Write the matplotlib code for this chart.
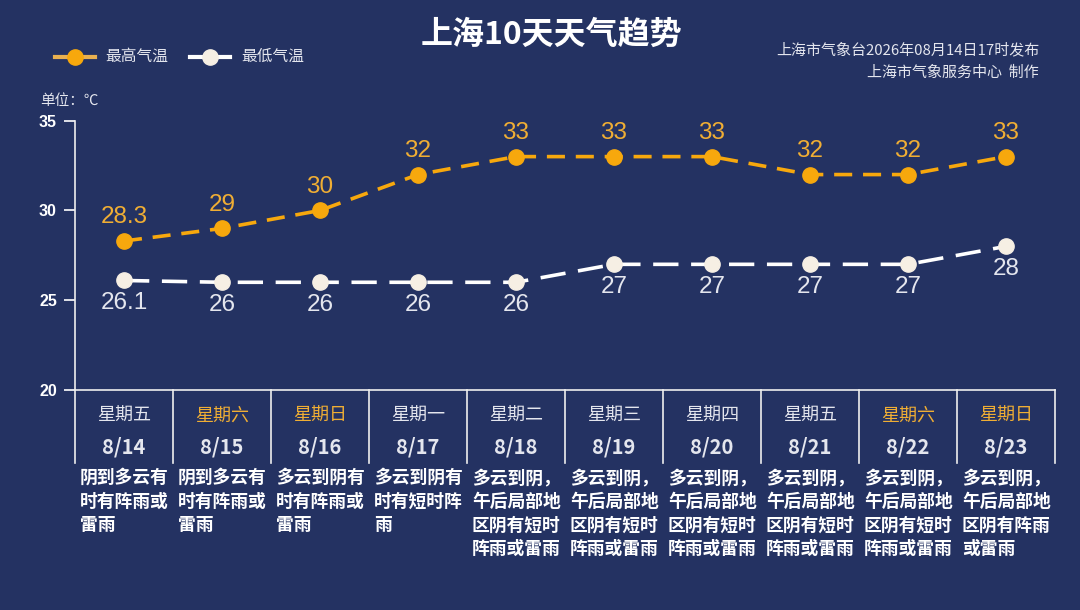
import matplotlib
matplotlib.use("Agg")
import matplotlib.pyplot as plt
import matplotlib.transforms as mtransforms
from matplotlib.lines import Line2D

# --- data ---
dates = ["8/14", "8/15", "8/16", "8/17", "8/18", "8/19", "8/20", "8/21", "8/22", "8/23"]
weekdays = ["星期五", "星期六", "星期日", "星期一", "星期二", "星期三", "星期四", "星期五", "星期六", "星期日"]
weekend = [False, True, True, False, False, False, False, False, True, True]
t_high = [28.3, 29, 30, 32, 33, 33, 33, 32, 32, 33]
t_low = [26.1, 26, 26, 26, 26, 27, 27, 27, 27, 28]
weather = ["阴到多云有时有阵雨或雷雨",
           "阴到多云有时有阵雨或雷雨",
           "多云到阴有时有阵雨或雷雨",
           "多云到阴有时有短时阵雨",
           "多云到阴，午后局部地区阴有短时阵雨或雷雨",
           "多云到阴，午后局部地区阴有短时阵雨或雷雨",
           "多云到阴，午后局部地区阴有短时阵雨或雷雨",
           "多云到阴，午后局部地区阴有短时阵雨或雷雨",
           "多云到阴，午后局部地区阴有短时阵雨或雷雨",
           "多云到阴，午后局部地区阴有阵雨或雷雨"]
y_ticks = [20, 25, 30, 35]

# --- style ---
BG = "#243262"
ORANGE = "#f7a80d"
ORANGE_TXT = "#f0ae34"
CREAM = "#f6efe4"
WHITE = "#ffffff"
GREY = "#e4e6ee"
CJK = ["Noto Sans CJK SC", "DejaVu Sans"]
NUM = ["Liberation Sans", "DejaVu Sans"]

W, H = 1080, 610
fig = plt.figure(figsize=(W / 100, H / 100), dpi=100, facecolor=BG)

def fy(px):
    return 1 - px / H

def fx(px):
    return px / W

ax = fig.add_axes([fx(75), fy(390), fx(1055) - fx(75), fy(120.7) - fy(390)])
ax.set_facecolor(BG)
x = list(range(len(dates)))

ax.plot(x, t_high, color=ORANGE, lw=2.6, ls=(0, (5, 3)), marker="o", ms=11,
        mfc=ORANGE, mec=ORANGE, zorder=3)
ax.plot(x, t_low, color=WHITE, lw=2.6, ls=(0, (7, 3.5)), marker="o", ms=11,
        mfc=CREAM, mec=CREAM, zorder=3)

for xi, v in zip(x, t_high):
    ax.annotate(f"{v:g}", (xi, v), xytext=(0, 17), textcoords="offset points",
                ha="center", va="center", color=ORANGE_TXT, fontsize=17.5,
                family=NUM, zorder=4)
for xi, v in zip(x, t_low):
    ax.annotate(f"{v:g}", (xi, v), xytext=(0, -16), textcoords="offset points",
                ha="center", va="center", color=GREY, fontsize=17.5,
                family=NUM, zorder=4)

ax.set_xlim(-0.5, len(dates) - 0.5)
ax.set_ylim(20, 35)
ax.set_yticks(y_ticks)
ax.set_xticks([])
ax.tick_params(axis="y", colors=WHITE, length=8, width=1.2, pad=5)
for lab in ax.get_yticklabels():
    lab.set_fontweight("bold")
    lab.set_fontsize(11.5)
    lab.set_family(NUM)
    lab.set_color(WHITE)
for side in ["top", "right"]:
    ax.spines[side].set_visible(False)
for side in ["left", "bottom"]:
    ax.spines[side].set_color("#eeeeee")
    ax.spines[side].set_linewidth(1.2)

# --- table under the axis ---
trans = mtransforms.blended_transform_factory(ax.transData, fig.transFigure)
for i in range(len(dates) + 1):
    ax.add_line(Line2D([i - 0.5, i - 0.5], [fy(390), fy(463)], transform=trans,
                       color="#eeeeee", lw=1.2, clip_on=False))

for i in x:
    ax.text(i, fy(416), weekdays[i], transform=trans, ha="center", va="center",
            fontsize=13, family=CJK, color=ORANGE_TXT if weekend[i] else GREY)
    ax.text(i, fy(447), dates[i], transform=trans, ha="center", va="center",
            fontsize=14.5, family=CJK, fontweight="bold", color=GREY)
    lines = [weather[i][k:k + 5] for k in range(0, len(weather[i]), 5)]
    for j, ln in enumerate(lines):
        ax.text(i - 0.45, fy(478 + 23.7 * j), ln, transform=trans, ha="left",
                va="center", fontsize=12.8, family=CJK, fontweight="bold",
                color=WHITE)

# --- title, legend, notes ---
fig.text(fx(551), fy(35), "上海10天天气趋势", ha="center", va="center",
         fontsize=23, fontweight="bold", family=CJK, color=WHITE)

fig.add_artist(Line2D([fx(55), fx(95)], [fy(57), fy(57)], color="#e9b050", lw=3,
                      transform=fig.transFigure))
fig.add_artist(Line2D([fx(75)], [fy(57)], color=ORANGE, marker="o", ms=11,
                      transform=fig.transFigure))
fig.text(fx(105), fy(56), "最高气温", ha="left", va="center", fontsize=11.3,
         family=CJK, color=GREY)
fig.add_artist(Line2D([fx(190), fx(230)], [fy(57), fy(57)], color=WHITE, lw=3,
                      transform=fig.transFigure))
fig.add_artist(Line2D([fx(210)], [fy(57)], color=CREAM, marker="o", ms=11,
                      transform=fig.transFigure))
fig.text(fx(241), fy(56), "最低气温", ha="left", va="center", fontsize=11.3,
         family=CJK, color=GREY)

fig.text(fx(40), fy(101), "单位：℃", ha="left", va="center", fontsize=10.5,
         family=CJK, color=GREY)

fig.text(fx(1039), fy(50), "上海市气象台2026年08月14日17时发布", ha="right",
         va="center", fontsize=10.8, family=CJK, color=GREY)
fig.text(fx(1039), fy(73), "上海市气象服务中心  制作", ha="right",
         va="center", fontsize=10.8, family=CJK, color=GREY)

fig.savefig("out.png", dpi=100, facecolor=BG)
